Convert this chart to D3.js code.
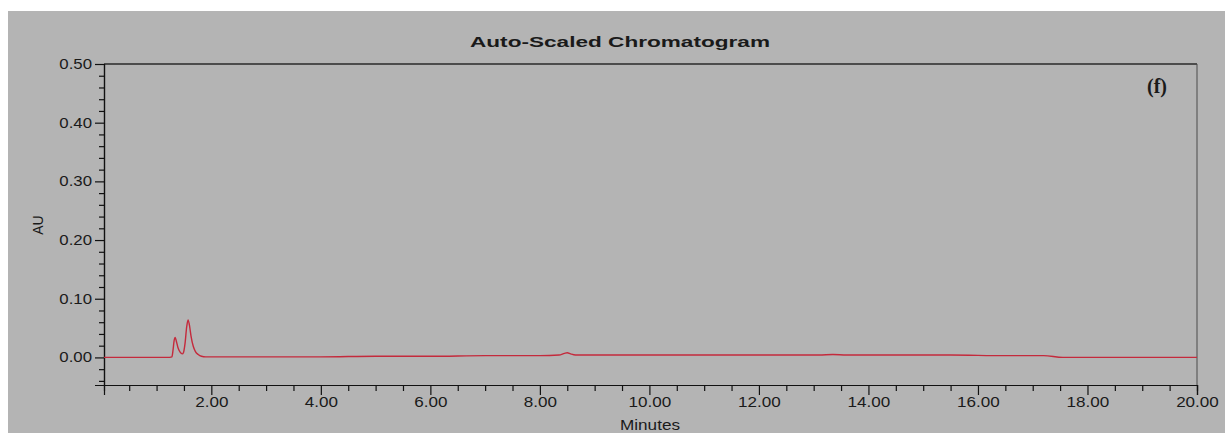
<!DOCTYPE html>
<html>
<head>
<meta charset="utf-8">
<script src="https://cdn.jsdelivr.net/npm/d3@7"></script>
<style>
  html, body { margin: 0; padding: 0; background: #ffffff; }
  svg { display: block; }
  text { font-family: "Liberation Sans", Arial, sans-serif; fill: #1a1a1a; }
</style>
</head>
<body>
<svg id="chart" width="1225" height="433"></svg>
<script>
// Chromatogram trace: retention time (min) and absorbance (AU)
const times = [0.04, 0.50, 1.00, 1.20, 1.28, 1.30, 1.32, 1.34, 1.36, 1.39, 1.43, 1.47, 1.49, 1.52, 1.55, 1.575, 1.60, 1.63, 1.67, 1.71, 1.76, 1.82, 1.90, 2.00, 2.50, 3.00, 4.00, 5.00, 6.00, 7.00, 8.00, 8.35, 8.45, 8.50, 8.56, 8.65, 8.80, 9.50, 10.50, 11.50, 12.50, 13.10, 13.35, 13.60, 14.50, 15.50, 16.50, 17.20, 17.55, 18.00, 19.00, 20.00];
const absorbance = [0.000, 0.000, 0.000, 0.000, 0.001, 0.012, 0.028, 0.034, 0.028, 0.017, 0.009, 0.006, 0.008, 0.024, 0.052, 0.064, 0.055, 0.036, 0.019, 0.010, 0.005, 0.002, 0.001, 0.001, 0.001, 0.001, 0.001, 0.002, 0.002, 0.003, 0.003, 0.004, 0.007, 0.008, 0.006, 0.004, 0.004, 0.004, 0.004, 0.004, 0.004, 0.004, 0.005, 0.004, 0.004, 0.004, 0.003, 0.003, 0.000, 0.000, 0.000, 0.000];

// Axis ticks
const xMajor = [2, 4, 6, 8, 10, 12, 14, 16, 18, 20];
const xMinor = [0.5, 1, 1.5, 2.5, 3, 3.5, 4.5, 5, 5.5, 6.5, 7, 7.5, 8.5, 9, 9.5, 10.5, 11, 11.5, 12.5, 13, 13.5, 14.5, 15, 15.5, 16.5, 17, 17.5, 18.5, 19, 19.5];
const yMajor = [0.00, 0.10, 0.20, 0.30, 0.40, 0.50];
const yMinor = [-0.04, -0.02, 0.02, 0.04, 0.06, 0.08, 0.12, 0.14, 0.16, 0.18, 0.22, 0.24, 0.26, 0.28, 0.32, 0.34, 0.36, 0.38, 0.42, 0.44, 0.46, 0.48];

const titleText = "Auto-Scaled Chromatogram";
const xTitle = "Minutes";
const yTitle = "AU";
const panelTag = "(f)";

const svg = d3.select("#chart");
const W = 1225, H = 433;
const plot = { left: 104, right: 1197, top: 64, bottom: 385 };

const x = d3.scaleLinear().domain([0.04, 20]).range([plot.left, plot.right]);
const y = d3.scaleLinear().domain([-0.047, 0.5]).range([plot.bottom, plot.top]);

// grey panel
svg.append("rect").attr("x", 8).attr("y", 11).attr("width", W - 8).attr("height", H - 11)
  .attr("fill", "#b4b4b4");

// frame: top and right border
svg.append("line").attr("x1", plot.left).attr("x2", plot.right).attr("y1", plot.top).attr("y2", plot.top)
  .attr("stroke", "#2a2a2a").attr("stroke-width", 1.4);
svg.append("line").attr("x1", plot.right).attr("x2", plot.right).attr("y1", plot.top).attr("y2", plot.bottom)
  .attr("stroke", "#4a4a4a").attr("stroke-width", 1);

// horizontal stretch of tick labels
function stretch(sel, k) {
  sel.each(function () {
    const len = this.getComputedTextLength();
    d3.select(this).attr("textLength", len * k).attr("lengthAdjust", "spacingAndGlyphs");
  });
}
function styleAxis(g) {
  g.selectAll("path.domain").attr("stroke", "#111").attr("stroke-width", 1.2);
  g.selectAll(".tick line").attr("stroke", "#111").attr("stroke-width", 1.2);
  g.selectAll("text").style("font-size", "14px").attr("fill", "#1a1a1a")
    .attr("font-family", "Liberation Sans, Arial, sans-serif");
}

// x axis: minor and major ticks
const gxMinor = svg.append("g").attr("transform", `translate(0,${plot.bottom})`)
  .call(d3.axisBottom(x).tickValues(xMinor).tickSize(6).tickFormat(""));
styleAxis(gxMinor);
const gx = svg.append("g").attr("transform", `translate(0,${plot.bottom})`)
  .call(d3.axisBottom(x).tickValues(xMajor).tickSize(10).tickPadding(2).tickFormat(d3.format(".2f")));
styleAxis(gx);
stretch(gx.selectAll("text"), 1.22);

// y axis: minor and major ticks
const gyMinor = svg.append("g").attr("transform", `translate(${plot.left},0)`)
  .call(d3.axisLeft(y).tickValues(yMinor).tickSize(5).tickFormat(""));
styleAxis(gyMinor);
const gy = svg.append("g").attr("transform", `translate(${plot.left},0)`)
  .call(d3.axisLeft(y).tickValues(yMajor).tickSize(9).tickPadding(3).tickFormat(d3.format(".2f")));
styleAxis(gy);
stretch(gy.selectAll("text"), 1.2);

// trace
const trace = times.map((t, i) => ({ t, a: absorbance[i] }));
const line = d3.line().x(d => x(d.t)).y(d => y(d.a)).curve(d3.curveMonotoneX);
svg.append("path").datum(trace).attr("d", line)
  .attr("fill", "none").attr("stroke", "#c42a3c").attr("stroke-width", 1.4)
  .attr("stroke-linejoin", "round");

// titles
svg.append("text").attr("x", 620).attr("y", 47).attr("text-anchor", "middle")
  .style("font-size", "15px").style("font-weight", "bold")
  .attr("textLength", 300).attr("lengthAdjust", "spacingAndGlyphs")
  .text(titleText);

svg.append("text").attr("x", 650).attr("y", 430).attr("text-anchor", "middle")
  .style("font-size", "14px")
  .attr("textLength", 60).attr("lengthAdjust", "spacingAndGlyphs")
  .text(xTitle);

svg.append("text").attr("transform", "translate(43,225) rotate(-90)").attr("text-anchor", "middle")
  .style("font-size", "14px")
  .text(yTitle);

svg.append("text").attr("x", 1157).attr("y", 93).attr("text-anchor", "middle")
  .style("font-family", "Liberation Serif, 'Times New Roman', serif")
  .style("font-size", "20px").style("font-weight", "bold").attr("fill", "#111")
  .text(panelTag);
</script>
</body>
</html>
